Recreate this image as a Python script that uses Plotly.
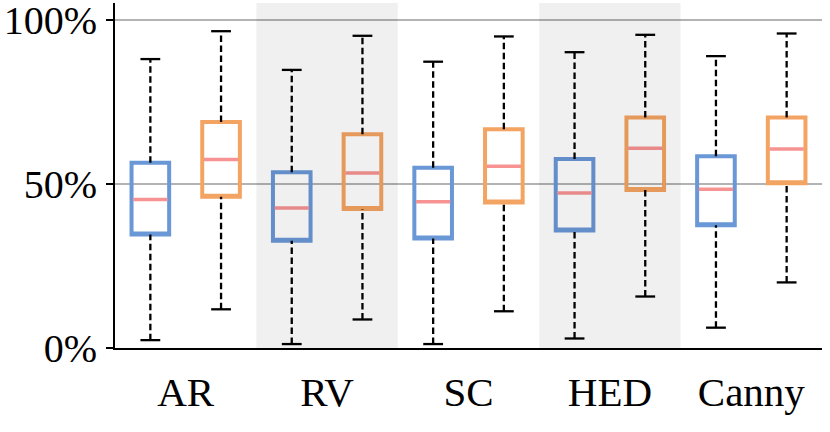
import plotly.graph_objects as go

categories = ["AR", "RV", "SC", "HED", "Canny"]

# blue series (left box in each group)
blue_low = [2.4, 1.2, 1.2, 2.9, 6.2]
blue_q1 = [34.6, 32.7, 33.4, 35.8, 37.4]
blue_med = [45.3, 42.7, 44.6, 47.3, 48.4]
blue_q3 = [56.5, 53.6, 55.0, 57.6, 58.5]
blue_high = [88.1, 84.8, 87.3, 90.2, 89.0]

# orange series (right box in each group)
orange_low = [11.8, 8.7, 11.2, 15.7, 20.0]
orange_q1 = [46.1, 42.4, 44.4, 48.2, 50.2]
orange_med = [57.5, 53.4, 55.4, 60.9, 60.7]
orange_q3 = [68.9, 65.2, 66.7, 70.3, 70.3]
orange_high = [96.6, 95.2, 95.0, 95.5, 95.9]

shaded = ["RV", "HED"]

BLUE = "#6a97d6"
ORANGE = "#f4a462"
MEDIAN = "#f79393"
BOX_W = 0.266
CAP_W = 0.14
OFFSET = 0.25

fig = go.Figure()

series = [
    (BLUE, -OFFSET, blue_low, blue_q1, blue_med, blue_q3, blue_high),
    (ORANGE, OFFSET, orange_low, orange_q1, orange_med, orange_q3, orange_high),
]

for color, off, low, q1, med, q3, high in series:
    xs = [i + off for i in range(len(categories))]
    # whiskers (dashed)
    wx, wy = [], []
    for x, lo, a, b, hi in zip(xs, low, q1, q3, high):
        wx += [x, x, None, x, x, None]
        wy += [lo, a, None, b, hi, None]
    fig.add_trace(go.Scatter(x=wx, y=wy, mode="lines",
                             line=dict(color="black", width=2.3, dash="6.5px,3.5px"),
                             hoverinfo="skip", showlegend=False))
    # caps
    cx, cy = [], []
    for x, lo, hi in zip(xs, low, high):
        cx += [x - CAP_W / 2, x + CAP_W / 2, None, x - CAP_W / 2, x + CAP_W / 2, None]
        cy += [lo, lo, None, hi, hi, None]
    fig.add_trace(go.Scatter(x=cx, y=cy, mode="lines",
                             line=dict(color="black", width=2.3),
                             hoverinfo="skip", showlegend=False))
    # box bodies
    fig.add_trace(go.Box(x=xs, q1=q1, median=q1, q3=q3,
                         lowerfence=q1, upperfence=q3,
                         width=BOX_W, whiskerwidth=0,
                         line=dict(color=color, width=4),
                         fillcolor="rgba(0,0,0,0)",
                         boxpoints=False, hoverinfo="skip", showlegend=False))
    # medians
    mx, my = [], []
    for x, m in zip(xs, med):
        mx += [x - BOX_W / 2 + 0.012, x + BOX_W / 2 - 0.012, None]
        my += [m, m, None]
    fig.add_trace(go.Scatter(x=mx, y=my, mode="lines",
                             line=dict(color=MEDIAN, width=3.5),
                             hoverinfo="skip", showlegend=False))

for name in shaded:
    i = categories.index(name)
    fig.add_shape(type="rect", xref="x", yref="paper",
                  x0=i - 0.5, x1=i + 0.5, y0=0, y1=1,
                  fillcolor="rgba(0,0,0,0.06)", line=dict(width=0),
                  layer="above")

fig.update_layout(
    width=830, height=432,
    margin=dict(l=115, r=8, t=3, b=84),
    plot_bgcolor="white", paper_bgcolor="white",
    font=dict(family="Liberation Serif", size=41, color="black"),
    showlegend=False,
)
fig.update_xaxes(range=[-0.5, 4.5], tickvals=list(range(len(categories))),
                 ticktext=categories, showgrid=False, zeroline=False,
                 showline=True, linecolor="black", linewidth=2,
                 ticks="", ticklabelstandoff=7, automargin=False,
                 ticklabeloverflow="allow")
fig.update_yaxes(range=[0, 105.2], tickvals=[0, 50, 100],
                 ticktext=["0%", "50%", "100%"],
                 tickfont=dict(size=40),
                 showgrid=True, gridcolor="#b3b3b3", gridwidth=1.6,
                 zeroline=False, showline=True, linecolor="black", linewidth=2,
                 ticks="outside", ticklen=7, tickwidth=1.6, tickcolor="black",
                 ticklabelstandoff=1, automargin=False,
                 ticklabeloverflow="allow")

fig.write_html("out.html",
               config={"displayModeBar": False, "staticPlot": True},
               post_script="document.body.style.margin='0px';document.body.style.overflow='hidden';")
